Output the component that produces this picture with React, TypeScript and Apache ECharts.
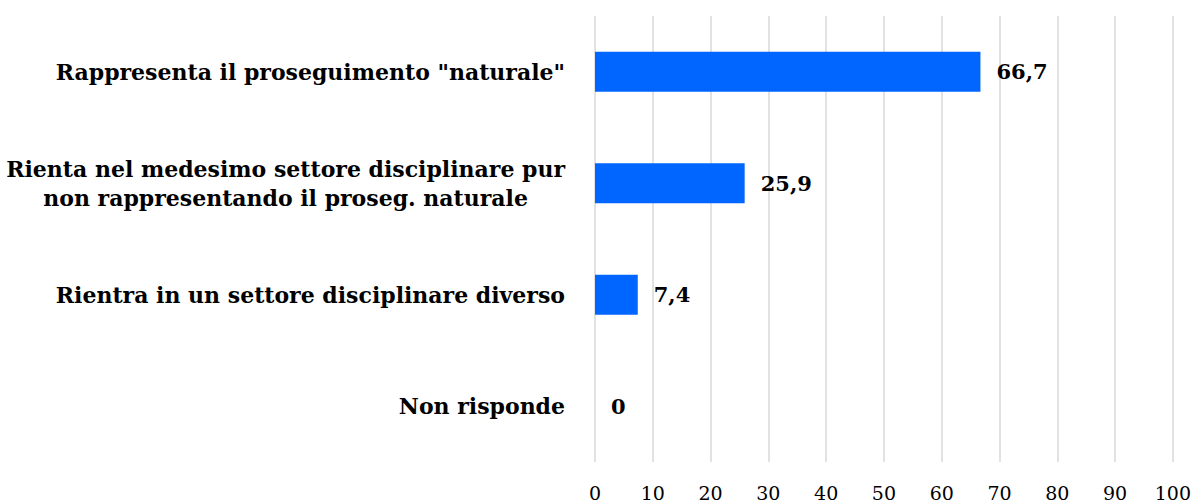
import React, { useEffect, useRef } from "react";
import * as echarts from "echarts";

const categories: string[][] = [
  ["Rappresenta il proseguimento \"naturale\""],
  ["Rienta nel medesimo settore disciplinare pur", "non rappresentando il proseg. naturale"],
  ["Rientra in un settore disciplinare diverso"],
  ["Non risponde"],
];
const values: number[] = [66.7, 25.9, 7.4, 0];
const xTicks = { min: 0, max: 100, interval: 10 };

const FONT = "DejaVu Serif";

export default function App() {
  const ref = useRef<HTMLDivElement>(null);
  useEffect(() => {
    if (!ref.current) return;
    const chart = echarts.init(ref.current, undefined, { renderer: "svg" });
    const catNames = categories.map((c) => c.join("\n"));
    chart.setOption({
      animation: false,
      grid: { left: 595, right: 21, top: 16, bottom: 42, containLabel: false },
      xAxis: {
        type: "value",
        min: xTicks.min,
        max: xTicks.max,
        interval: xTicks.interval,
        axisLine: { show: false },
        axisTick: { show: false },
        splitLine: { show: true, lineStyle: { color: "#d9d9d9", width: 1.5 } },
        axisLabel: {
          color: "#000",
          fontFamily: FONT,
          fontSize: 19,
          margin: 21,
        },
      },
      yAxis: {
        type: "category",
        inverse: true,
        data: catNames,
        axisLine: { show: false },
        axisTick: { show: false },
        axisLabel: {
          margin: 30,
          formatter: (v: string) =>
            v
              .split("\n")
              .map((l) => `{c|${l}}`)
              .join("\n"),
          rich: {
            c: {
              align: "center",
              color: "#000",
              fontFamily: FONT,
              fontWeight: "bold",
              fontSize: 22,
              lineHeight: 29,
            },
          },
        },
      },
      series: [
        {
          type: "bar",
          data: values,
          barWidth: 40,
          itemStyle: { color: "#0066ff" },
          label: {
            show: true,
            position: "right",
            distance: 16,
            color: "#000",
            fontFamily: FONT,
            fontWeight: "bold",
            fontSize: 21,
            formatter: (p: any) => String(p.value).replace(".", ","),
          },
        },
      ],
    });
    return () => chart.dispose();
  }, []);
  return (
    <div
      ref={ref}
      style={{ position: "fixed", left: 0, top: 0, width: 1194, height: 504, background: "#fff" }}
    />
  );
}
